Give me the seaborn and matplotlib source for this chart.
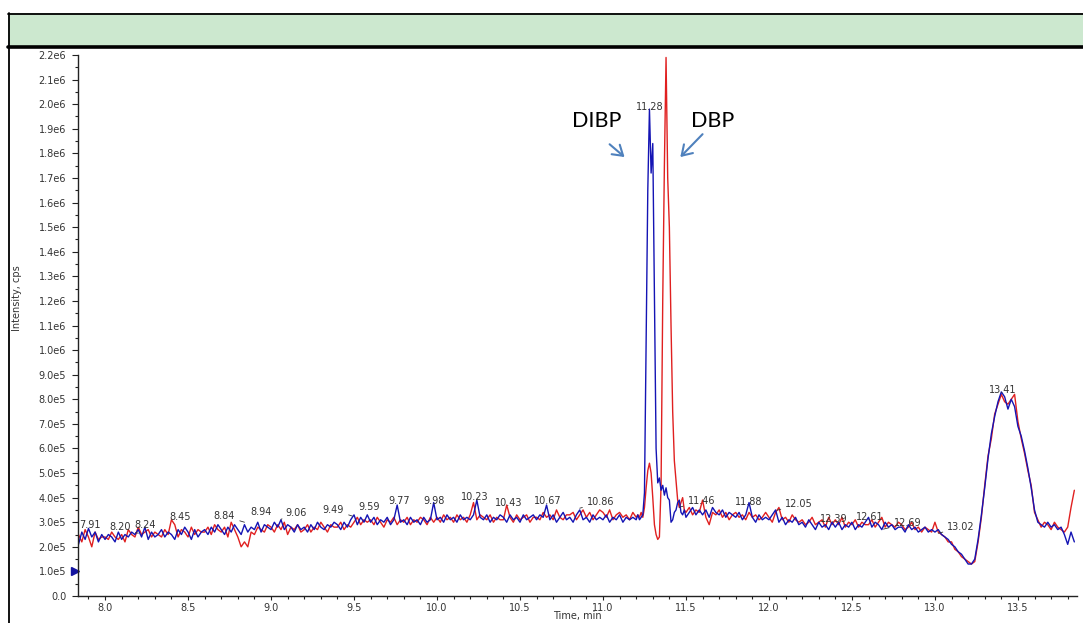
import numpy as np
import pandas as pd
import matplotlib
matplotlib.use("Agg")
import matplotlib.pyplot as plt
import seaborn as sns
from matplotlib.ticker import FuncFormatter, MultipleLocator
from matplotlib.patches import Rectangle
from matplotlib.lines import Line2D

# ---------------- data (intensity in units of 1e5 cps) ----------------
# acquisition grid (min)
t_seg1 = np.round(np.arange(7.84, 11.2001, 0.02), 2)
t_seg2 = np.round(np.arange(11.21, 11.5001, 0.01), 2)
t_seg3 = np.round(np.arange(11.52, 13.8401, 0.02), 2)
time_min = np.concatenate([t_seg1, t_seg2, t_seg3])

blue_seg1 = [
    2.1, 2.6, 2.3, 2.75, 2.4, 2.6, 2.2, 2.5,
    2.3, 2.5, 2.4, 2.2, 2.6, 2.3, 2.5, 2.4, 2.6, 2.5,
    2.7, 2.4, 2.8, 2.3, 2.6, 2.4, 2.5, 2.7, 2.4, 2.6,
    2.5, 2.3, 2.7, 2.5, 2.8, 2.6, 2.3, 2.7, 2.4, 2.6,
    2.7, 2.5, 2.8, 2.6, 2.9, 2.7, 2.5, 2.8, 2.6, 2.9,
    2.7, 2.5, 2.9, 2.6, 2.8, 2.7, 3.0, 2.6, 2.9, 2.8,
    2.7, 3.0, 2.8, 3.1, 2.7, 2.9, 2.8, 2.6, 2.9, 2.7,
    2.8, 2.6, 2.9, 2.7, 3.0, 2.8, 2.7, 2.9, 2.8, 3.0,
    2.9, 2.7, 3.0, 2.8, 3.1, 3.3, 2.9, 3.2, 3.0, 3.3,
    3.0, 3.2, 2.9, 3.1, 3.0, 3.2, 2.9, 3.1, 3.7, 3.0,
    3.1, 2.9, 3.2, 3.0, 3.1, 2.9, 3.2, 3.0, 3.1, 3.8,
    3.1, 3.2, 3.0, 3.3, 3.1, 3.2, 3.0, 3.3, 3.1, 3.2,
    3.1, 3.3, 3.9, 3.2, 3.1, 3.3, 3.0, 3.2, 3.1, 3.3,
    3.2, 3.0, 3.3, 3.1, 3.2, 3.0, 3.3, 3.1, 3.2, 3.3,
    3.1, 3.3, 3.2, 3.7, 3.1, 3.3, 3.0, 3.2, 3.4, 3.1,
    3.2, 3.0, 3.3, 3.5, 3.1, 3.2, 3.0, 3.3, 3.1, 3.2,
    3.1, 3.3, 3.0, 3.2, 3.1, 3.3, 3.0, 3.2, 3.1, 3.2, 3.1,
]
red_seg1 = [
    2.5, 2.2, 2.7, 2.4, 2.0, 2.6, 2.3, 2.4,
    2.4, 2.3, 2.6, 2.4, 2.3, 2.5, 2.2, 2.7, 2.5, 2.4,
    2.8, 2.5, 2.6, 2.7, 2.4, 2.6, 2.5, 2.4, 2.7, 2.5,
    3.1, 2.9, 2.4, 2.7, 2.6, 2.4, 2.8, 2.5, 2.7, 2.6,
    2.6, 2.8, 2.5, 2.9, 2.7, 2.6, 2.8, 2.4, 3.0, 2.7,
    2.4, 2.0, 2.2, 2.0, 2.6, 2.5, 2.8, 2.7, 2.6, 2.9,
    2.8, 2.6, 2.9, 2.7, 3.0, 2.5, 2.8, 2.7, 2.9, 2.6,
    2.7, 2.9, 2.6, 2.8, 2.7, 3.0, 2.8, 2.6, 2.9, 2.8,
    2.8, 3.0, 2.7, 2.9, 2.8, 3.0, 3.2, 2.9, 3.1, 3.0,
    3.1, 2.9, 3.2, 3.0, 2.8, 3.1, 3.0, 3.2, 2.9, 3.1,
    3.0, 3.2, 2.9, 3.1, 3.0, 3.2, 3.1, 2.9, 3.2, 3.0,
    3.2, 3.0, 3.3, 3.1, 3.2, 3.0, 3.3, 3.1, 3.2, 3.0,
    3.3, 3.8, 3.1, 3.3, 3.2, 3.1, 3.3, 3.0, 3.2, 3.1,
    3.1, 3.7, 3.2, 3.0, 3.3, 3.1, 3.2, 3.3, 3.0, 3.2,
    3.2, 3.1, 3.4, 3.2, 3.3, 3.1, 3.5, 3.2, 3.1, 3.3,
    3.3, 3.4, 3.1, 3.3, 3.5, 3.2, 3.4, 3.1, 3.3, 3.5,
    3.4, 3.2, 3.5, 3.1, 3.3, 3.4, 3.2, 3.3, 3.1, 3.4, 3.2,
]
blue_seg2 = [
    3.3, 3.1, 3.2, 3.3, 4.2, 10.5, 16.5, 19.8, 17.2, 18.4,
    12.0, 6.0, 4.6, 4.8, 4.3, 4.5, 4.1, 4.4, 4.0, 3.9,
    3.0, 3.1, 3.4, 3.5, 3.8, 3.9, 3.4, 3.3, 3.5, 3.2,
]
red_seg2 = [
    3.3, 3.2, 3.4, 3.2, 3.6, 4.4, 5.1, 5.4, 5.0, 4.0,
    2.9, 2.5, 2.3, 2.4, 4.5, 12.0, 17.5, 21.9, 17.0, 15.0,
    11.0, 7.5, 5.5, 4.7, 3.9, 3.6, 3.8, 4.0, 3.5, 3.4,
]
blue_seg3 = [
    3.4, 3.6, 3.3, 3.5,
    3.3, 3.5, 3.2, 3.6, 3.4, 3.3, 3.5, 3.2, 3.4, 3.3,
    3.2, 3.4, 3.1, 3.3, 3.8, 3.2, 3.0, 3.3, 3.1, 3.2,
    3.1, 3.3, 3.5, 3.0, 3.2, 2.9, 3.1, 3.0, 3.2, 2.9,
    3.0, 2.8, 3.1, 2.9, 2.7, 3.0, 2.8, 2.9, 2.7, 3.0,
    2.8, 3.0, 2.7, 2.9, 2.8, 3.0, 2.7, 2.9, 2.8, 3.0,
    3.2, 2.8, 3.0, 2.9, 2.7, 3.0, 2.8, 2.9, 2.7, 2.8,
    2.8, 2.6, 2.9, 2.7, 2.8, 2.6, 2.7, 2.8, 2.6, 2.7,
    2.6, 2.7, 2.5, 2.4, 2.3, 2.1, 2.0, 1.8, 1.7, 1.5,
    1.3, 1.3, 1.5, 2.3, 3.3, 4.4, 5.6, 6.6, 7.3, 7.9,
    8.3, 8.1, 7.6, 8.0, 7.7, 6.9, 6.5, 5.9, 5.2, 4.4,
    3.5, 3.0, 2.9, 2.8, 3.0, 2.8, 2.9, 2.7, 2.8, 2.5,
    2.1, 2.6, 2.2,
]
red_seg3 = [
    3.6, 3.3, 3.5, 3.4,
    3.9, 3.2, 2.9, 3.4, 3.3, 3.5, 3.2, 3.4, 3.1, 3.3,
    3.4, 3.2, 3.3, 3.1, 3.4, 3.2, 3.3, 3.1, 3.2, 3.4,
    3.2, 3.0, 3.4, 3.6, 3.1, 3.2, 3.0, 3.3, 3.1, 3.0,
    3.1, 2.9, 3.0, 3.2, 2.9, 3.0, 3.1, 2.8, 3.2, 2.9,
    3.1, 2.9, 3.2, 2.8, 3.0, 2.9, 3.1, 2.8, 3.0, 2.9,
    2.9, 3.1, 2.8, 3.0, 3.2, 2.8, 3.0, 2.9, 2.8, 3.0,
    2.9, 2.7, 2.8, 3.0, 2.7, 2.8, 2.6, 2.8, 2.7, 2.6,
    3.0, 2.6, 2.5, 2.4, 2.2, 2.2, 1.9, 1.8, 1.6, 1.5,
    1.4, 1.3, 1.4, 2.2, 3.2, 4.5, 5.7, 6.4, 7.4, 7.8,
    8.2, 7.9, 7.8, 8.0, 8.2, 7.1, 6.4, 5.8, 5.1, 4.5,
    3.4, 3.1, 2.8, 3.0, 2.9, 2.7, 3.0, 2.8, 2.7, 2.6,
    2.8, 3.6, 4.3,
]
blue_intensity = np.array(blue_seg1 + blue_seg2 + blue_seg3) * 1e5
red_intensity = np.array(red_seg1 + red_seg2 + red_seg3) * 1e5

# peak-apex labels
peak_labels = ["7.91", "8.20", "8.24", "8.45", "8.84", "8.94", "9.06", "9.49",
               "9.59", "9.77", "9.98", "10.23", "10.43", "10.67", "10.86",
               "11.28", "11.46", "11.88", "12.05", "12.39", "12.61", "12.69",
               "13.02", "13.41"]
peak_label_heights = [2.89, 2.80, 2.89, 3.21, 3.25, 3.41, 3.37, 3.50,
                      3.62, 3.86, 3.86, 4.02, 3.78, 3.86, 3.82,
                      19.88, 3.86, 3.82, 3.74, 3.13, 3.21, 2.97,
                      2.80, 8.37]
# horizontal label shift in pixels (layout only)
label_shift_px = [0, -18, 0, 0, -20, 0, 15, -19,
                  0, 0, 0, 0, 0, 0, 21,
                  0, 22, 0, 22, 0, 0, 24,
                  23, 0]

compound_names = ["DIBP", "DBP"]

# ---------------- figure ----------------
W, H = 1083, 623
fig = plt.figure(figsize=(W / 100, H / 100), dpi=100)
sns.set_style("ticks")
plt.rcParams["font.family"] = ["DejaVu Sans"]

# banner
fig.patches.append(Rectangle((8 / W, 1 - 46 / H), 1 - 8 / W, 33 / H,
                             transform=fig.transFigure, facecolor="#cce8cf",
                             edgecolor="none", zorder=0))
fig.lines.append(Line2D([8 / W, 1], [1 - 13.5 / H] * 2, transform=fig.transFigure,
                        color="black", lw=1.3))
fig.lines.append(Line2D([8 / W, 1], [1 - 46.5 / H] * 2, transform=fig.transFigure,
                        color="black", lw=2.6))
fig.lines.append(Line2D([8.5 / W] * 2, [0, 1 - 13 / H], transform=fig.transFigure,
                        color="black", lw=1.3))

ax = fig.add_axes([78 / W, 1 - 596 / H, (1077 - 78) / W, (596 - 55) / H])

df = pd.DataFrame({
    "time": np.concatenate([time_min, time_min]),
    "intensity": np.concatenate([red_intensity, blue_intensity]),
    "trace": ["red"] * len(time_min) + ["blue"] * len(time_min),
})
sns.lineplot(data=df, x="time", y="intensity", hue="trace",
             hue_order=["red", "blue"],
             palette={"red": "#e02020", "blue": "#1414b4"},
             estimator=None, sort=False, lw=1.0, legend=False, ax=ax)

ax.set_xlim(7.837, 13.856)
ax.set_ylim(0, 2.2e6)
sns.despine(ax=ax)
for s in ("left", "bottom"):
    ax.spines[s].set_linewidth(1.0)
    ax.spines[s].set_color("#222222")

ax.xaxis.set_major_locator(MultipleLocator(0.5))
ax.xaxis.set_minor_locator(MultipleLocator(0.1))
ax.yaxis.set_major_locator(MultipleLocator(1e5))
ax.yaxis.set_minor_locator(MultipleLocator(0.5e5))


def yfmt(v, pos):
    if v >= 9.95e5:
        return f"{v / 1e6:.1f}e6"
    if v > 0:
        return f"{v / 1e5:.1f}e5"
    return "0.0"


ax.yaxis.set_major_formatter(FuncFormatter(yfmt))
ax.xaxis.set_major_formatter(FuncFormatter(lambda v, p: f"{v:.1f}"))
ax.tick_params(axis="both", which="major", labelsize=7, colors="#222222",
               labelcolor="#333333", width=0.8)
ax.tick_params(axis="y", which="major", length=4.5, pad=4)
ax.tick_params(axis="x", which="major", length=3, pad=2)
ax.tick_params(axis="both", which="minor", length=2.5, width=0.8, colors="#222222")

ax.set_xlabel("Time, min", fontsize=7, color="#333333", labelpad=0)
ax.set_ylabel("Intensity, cps", fontsize=7, color="#333333")
ax.xaxis.set_label_coords(0.5, -0.028)
ax.yaxis.set_label_coords(-0.056, 0.55)

# marker on y axis
ax.plot([-0.003], [1e5], marker=">", color="#1414a0", markersize=6,
        transform=ax.get_yaxis_transform(), clip_on=False)

# peak labels
for lab, hgt, dx in zip(peak_labels, peak_label_heights, label_shift_px):
    tval = float(lab)
    if dx == 0:
        ax.annotate(lab, xy=(tval, hgt * 1e5), ha="center", va="center",
                    fontsize=7, color="#333333")
    else:
        ax.annotate(lab, xy=(tval, (hgt - 0.25) * 1e5), xytext=(dx, 6),
                    textcoords="offset pixels", ha="center", va="center",
                    fontsize=7, color="#333333",
                    arrowprops=dict(arrowstyle="-", lw=0.6, color="#333333",
                                    shrinkA=1, shrinkB=0))

# compound annotations
ax.text(10.96, 19.3e5, compound_names[0], fontsize=15.5, family="Lato",
        ha="center", va="center", color="#000000")
ax.text(11.66, 19.3e5, compound_names[1], fontsize=15.5, family="Lato",
        ha="center", va="center", color="#000000")
ax.annotate("", xy=(11.13, 17.85e5), xytext=(11.04, 18.37e5),
            arrowprops=dict(arrowstyle="->,head_length=0.7,head_width=0.45",
                            lw=1.5, color="#4f81bd", shrinkA=0, shrinkB=0))
ax.annotate("", xy=(11.466, 17.85e5), xytext=(11.60, 18.78e5),
            arrowprops=dict(arrowstyle="->,head_length=0.7,head_width=0.45",
                            lw=1.5, color="#4f81bd", shrinkA=0, shrinkB=0))

fig.savefig("out.png", dpi=100)
